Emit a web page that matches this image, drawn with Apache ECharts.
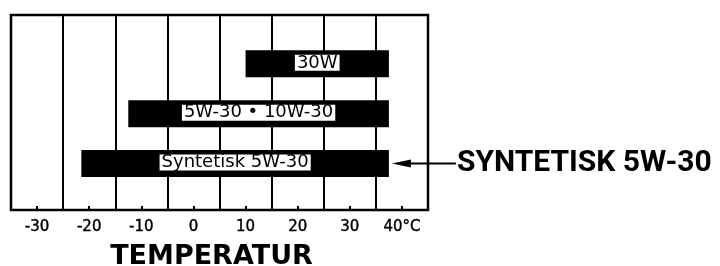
<!DOCTYPE html>
<html>
<head>
<meta charset="utf-8">
<script src="https://cdn.jsdelivr.net/npm/echarts@6/dist/echarts.min.js"></script>
<style>html,body{margin:0;padding:0;background:#fff;}#c{width:720px;height:266px;}</style>
</head>
<body>
<div id="c"></div>
<script>
// Data
const bandLabels = ['30W', '5W-30 \u2022 10W-30', 'Syntetisk 5W-30'];
const bandStart = [10, -12.5, -21.5];
const bandEnd = [37.5, 37.5, 37.5];
const bandRow = [1, 2, 3];
const callouts = ['', '', 'SYNTETISK 5W-30'];
const tickValues = [-30, -20, -10, 0, 10, 20, 30, 40];
const axisTitle = 'TEMPERATUR';

const seriesData = bandLabels.map((l, i) => [bandStart[i], bandEnd[i], bandRow[i]]);

function renderItem(params, api) {
  const idx = params.dataIndex;
  const row = api.value(2);
  const p0 = api.coord([api.value(0), row]);
  const p1 = api.coord([api.value(1), row]);
  const h = 27;
  const children = [
    {type: 'rect', shape: {x: p0[0], y: p0[1] - h / 2, width: p1[0] - p0[0], height: h}, style: {fill: '#000'}},
    {type: 'text', style: {
      text: bandLabels[idx], x: (p0[0] + p1[0]) / 2, y: p0[1] - 1,
      align: 'center', verticalAlign: 'middle',
      font: '18px "DejaVu Sans"', fill: '#000', lineHeight: 16,
      backgroundColor: '#fff', padding: [0, 2],
      borderColor: '#000', borderWidth: 1, borderType: 'dotted'
    }}
  ];
  if (callouts[idx]) {
    const x = p1[0], y = p1[1];
    children.push(
      {type: 'polygon', shape: {points: [[x + 3, y], [x + 22, y - 4], [x + 22, y + 4]]}, style: {fill: '#000'}},
      {type: 'line', shape: {x1: x + 20, y1: y, x2: x + 67, y2: y}, style: {stroke: '#000', lineWidth: 2}},
      {type: 'text', style: {text: callouts[idx], x: x + 68, y: y, align: 'left', verticalAlign: 'middle',
        font: 'bold 30px Roboto', fill: '#000'}}
    );
  }
  return {type: 'group', children};
}

const chart = echarts.init(document.getElementById('c'), null, {renderer: 'canvas'});
chart.setOption({
  animation: false,
  backgroundColor: '#fff',
  grid: {left: 11, right: 292, top: 15, bottom: 56, outerBoundsMode: 'none', containLabel: false,
    show: true, borderColor: '#000', borderWidth: 2.5, backgroundColor: 'transparent'},
  xAxis: [
    {
      type: 'value', position: 'bottom', min: -35, max: 45, interval: 10,
      axisLine: {show: false}, axisTick: {show: false}, axisLabel: {show: false},
      splitLine: {show: true, lineStyle: {color: '#000', width: 2}},
      name: axisTitle, nameLocation: 'middle', nameGap: 33,
      nameTextStyle: {fontFamily: 'DejaVu Sans', fontWeight: 'bold', fontSize: 27, color: '#000', padding: [0, 16, 0, 0]}
    },
    {
      type: 'value', position: 'bottom', min: -35, max: 45,
      axisLine: {show: false}, splitLine: {show: false},
      axisTick: {show: true, inside: true, length: 4, customValues: tickValues, lineStyle: {color: '#000', width: 2}},
      axisLabel: {show: true, customValues: tickValues, margin: 10, color: '#000', fontFamily: 'DejaVu Sans', fontSize: 15,
        textBorderColor: '#000', textBorderWidth: 0.4,
        formatter: v => v === 40 ? '40\u00B0C' : String(v)}
    }
  ],
  yAxis: {type: 'value', min: 0.02, max: 3.93, inverse: true, show: false},
  series: [{
    type: 'custom', xAxisIndex: 0, yAxisIndex: 0, clip: false,
    renderItem: renderItem,
    encode: {x: [0, 1], y: 2},
    data: seriesData
  }]
});
</script>
</body>
</html>
